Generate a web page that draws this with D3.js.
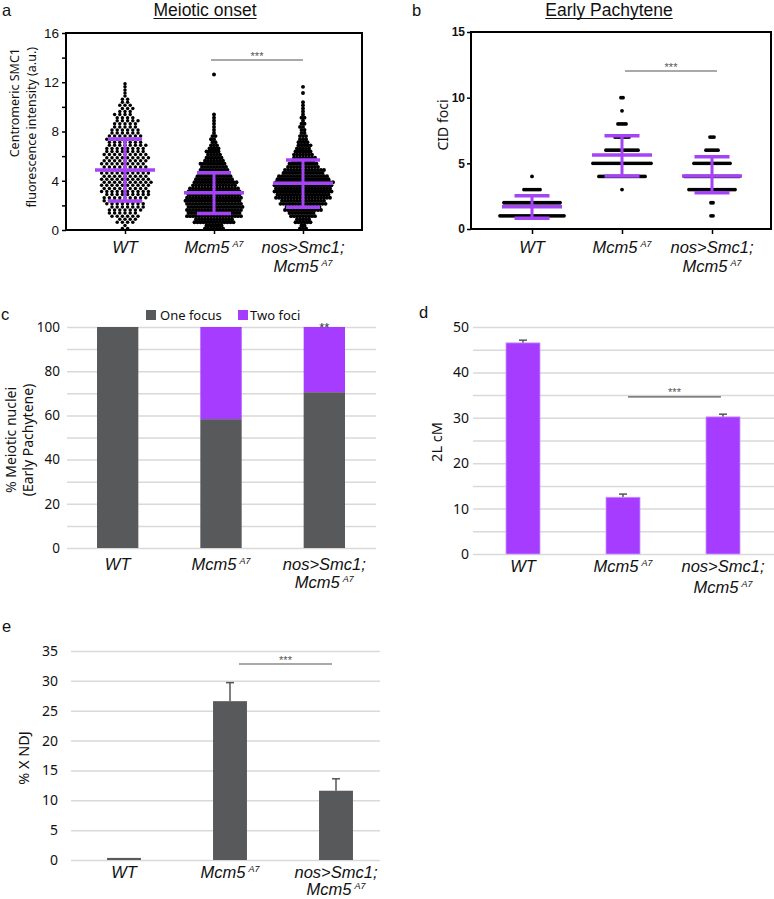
<!DOCTYPE html>
<html><head><meta charset="utf-8">
<script src="https://cdn.jsdelivr.net/npm/d3@7"></script>
<style>body{margin:0;background:#fff} svg{display:block}</style>
</head><body><svg id="fig" width="774" height="899"></svg>
<script>
// ---------------- DATA ----------------
const categories = ["WT", "Mcm5", "nos>Smc1; Mcm5"];
const labelLine1 = ["WT", "Mcm5", "nos>Smc1;"];
const labelSup1  = ["", "A7", ""];
const labelLine2 = ["", "", "Mcm5"];
const labelSup2  = ["", "", "A7"];

// Panel a: centromeric SMC1 intensity, number of nuclei per 0.5 a.u. bin (bin 0 = 0-0.5)
const smc1BinWidth = 0.5;
const smc1CountsWT   = [3,8,12,14,16,18,19,20,19,19,18,18,17,16,14,13,11,10,8,6,5,3,2,2];
const smc1CountsMcm5 = [13,27,37,38,38,37,35,30,25,21,18,13,10,7,4,3,2,2,2,0,0,0,0,0,0,1];
const smc1CountsNos  = [5,11,18,25,31,37,39,40,35,28,21,16,13,10,7,5,4,3,3,2,2,0,1,1];
const smc1Mean   = [4.87, 3.03, 3.79];
const smc1SdHigh = [7.39, 4.65, 5.68];
const smc1SdLow  = [2.36, 1.35, 1.84];
const smc1Ticks  = [0, 4, 8, 12, 16];

// Panel b: CID foci per nucleus (value -> count)
const cidValues     = [1, 2, 3, 4, 5, 6, 7, 8, 9, 10];
const cidCountsWT   = [33, 29, 9, 1, 0, 0, 0, 0, 0, 0];
const cidCountsMcm5 = [0, 0, 1, 24, 30, 17, 8, 5, 1, 2];
const cidCountsNos  = [2, 2, 24, 28, 19, 7, 3, 0, 0, 0];
const cidMean   = [1.70, 5.63, 4.04];
const cidSdHigh = [2.54, 7.10, 5.50];
const cidSdLow  = [0.81, 4.04, 2.76];
const cidTicks  = [0, 5, 10, 15];

// Panel c: % meiotic nuclei (early pachytene)
const seriesC = ["One focus", "Two foci"];
const oneFocus = [100, 58.3, 70.5];
const twoFoci  = [0, 41.7, 29.5];

// Panel d: 2L cM
const cM    = [46.5, 12.5, 30.2];
const cMErr = [0.6, 0.7, 0.6];

// Panel e: % X NDJ
const ndj    = [0.35, 26.6, 11.6];
const ndjErr = [0, 3.1, 2.0];

// ---------------- STYLE ----------------
const purple = "#a63cff";
const purpleBar = "#a544f6";
const gray = "#58595b";
const grid = "#d9d9d9";
const arial = "'Liberation Sans', Arial, sans-serif";
const myriad = "'Noto Sans', 'Open Sans', sans-serif";

const svg = d3.select("#fig");

function xLabels(g, xs, y1, y2, size) {
  categories.forEach((c, i) => {
    const t = g.append("text").attr("x", xs[i]).attr("y", y1)
      .attr("text-anchor", "middle").attr("font-family", arial)
      .attr("font-style", "italic").attr("font-size", size).attr("fill", "#111");
    t.append("tspan").text(labelLine1[i]);
    if (labelSup1[i]) t.append("tspan").attr("dx", 3).attr("dy", -6).attr("font-size", size * 0.55).text(labelSup1[i]);
    if (labelLine2[i]) {
      const t2 = g.append("text").attr("x", xs[i]).attr("y", y2)
        .attr("text-anchor", "middle").attr("font-family", arial)
        .attr("font-style", "italic").attr("font-size", size).attr("fill", "#111");
      t2.append("tspan").text(labelLine2[i]);
      if (labelSup2[i]) t2.append("tspan").attr("dx", 3).attr("dy", -6).attr("font-size", size * 0.55).text(labelSup2[i]);
    }
  });
}
function panelLetter(x, y, s) {
  svg.append("text").attr("x", x).attr("y", y).attr("font-family", arial)
    .attr("font-size", 16.5).attr("fill", "#111").text(s);
}
function title(cx, y, s) {
  const t = svg.append("text").attr("x", cx).attr("y", y).attr("text-anchor", "middle")
    .attr("font-family", arial).attr("font-size", 17.5).attr("fill", "#111").text(s);
  const w = t.node().getComputedTextLength();
  svg.append("line").attr("x1", cx - w / 2).attr("x2", cx + w / 2).attr("y1", y + 2.5).attr("y2", y + 2.5)
    .attr("stroke", "#111").attr("stroke-width", 1);
}
function sig(x1, x2, y, s, fs) {
  svg.append("line").attr("x1", x1).attr("x2", x2).attr("y1", y).attr("y2", y)
    .attr("stroke", "#555").attr("stroke-width", 1.2);
  svg.append("text").attr("x", (x1 + x2) / 2).attr("y", y - 0.5).attr("text-anchor", "middle")
    .attr("font-family", arial).attr("font-size", fs || 11).attr("fill", "#555").text(s);
}

// ---------------- PANEL A ----------------
(function () {
  const L = 66, R = 362, T = 33, B = 230;
  const y = d3.scaleLinear().domain([0, 16]).range([B, T]);
  const x = d3.scalePoint().domain(categories).range([125, 303]);
  const g = svg.append("g");
  const ax = g.append("g").attr("transform", `translate(${L},0)`)
    .call(d3.axisLeft(y).tickValues(d3.range(0, 17, 2)).tickFormat(d => smc1Ticks.includes(d) ? d : "").tickSize(4).tickPadding(3));
  ax.select(".domain").remove();
  ax.selectAll("line").attr("stroke", "#000").attr("stroke-width", 1.5);
  ax.selectAll("text").attr("font-family", arial).attr("font-size", 13.5).attr("fill", "#111");
  const bx = g.append("g").attr("transform", `translate(0,${B})`)
    .call(d3.axisBottom(x).tickSize(4).tickFormat(""));
  bx.select(".domain").remove();
  bx.selectAll("line").attr("stroke", "#000").attr("stroke-width", 1.5);

  const sets = [smc1CountsWT, smc1CountsMcm5, smc1CountsNos];
  const gaps = [5.2, 3.0, 3.0];
  const radii = [1.75, 1.95, 1.95];
  sets.forEach((counts, i) => {
    const pts = [];
    counts.forEach((c, b) => {
      const n0 = Math.ceil(c / 2), n1 = c - n0;
      [n0, n1].forEach((n, k) => {
        const shift = (k === 1 && n0 === n1 && n > 1) ? (b % 2 ? 0.5 : -0.5) : 0;
        for (let j = 0; j < n; j++) pts.push({ v: b * smc1BinWidth + smc1BinWidth * (k + 0.5) / 2, j, n, shift });
      });
    });
    g.append("g").selectAll("circle").data(pts).join("circle")
      .attr("cx", d => x(categories[i]) + (d.j - (d.n - 1) / 2 + d.shift) * gaps[i])
      .attr("cy", d => y(d.v)).attr("r", radii[i]).attr("fill", "#000");
  });
  categories.forEach((c, i) => {
    const cx = x(c);
    g.append("line").attr("x1", cx).attr("x2", cx).attr("y1", y(smc1SdLow[i])).attr("y2", y(smc1SdHigh[i]))
      .attr("stroke", purpleBar).attr("stroke-width", 3);
    [[smc1Mean[i], 30], [smc1SdHigh[i], 17], [smc1SdLow[i], 17]].forEach(([v, hw]) => {
      g.append("line").attr("x1", cx - hw).attr("x2", cx + hw).attr("y1", y(v)).attr("y2", y(v))
        .attr("stroke", purpleBar).attr("stroke-width", 3.5);
    });
  });
  g.append("rect").attr("x", L).attr("y", T).attr("width", R - L).attr("height", B - T)
    .attr("fill", "none").attr("stroke", "#000").attr("stroke-width", 2);
  xLabels(g, categories.map(c => x(c)), 253, 272, 16.5);
  sig(211, 303, 60, "***");
  title(205, 16, "Meiotic onset");
  panelLetter(2, 15.5, "a");
  svg.append("text").attr("transform", "translate(19,48) rotate(-90)").attr("text-anchor", "end")
    .attr("font-family", myriad).attr("font-size", 12.5).attr("fill", "#111").text("Centromeric SMC1");
  svg.append("text").attr("transform", "translate(36,47) rotate(-90)").attr("text-anchor", "end")
    .attr("font-family", myriad).attr("font-size", 12.5).attr("fill", "#111").text("fluorescence intensity (a.u.)");
})();

// ---------------- PANEL B ----------------
(function () {
  const L = 471, R = 771, T = 32, B = 229;
  const y = d3.scaleLinear().domain([0, 15]).range([B, T]);
  const x = d3.scalePoint().domain(categories).range([532, 712]);
  const g = svg.append("g");
  const ax = g.append("g").attr("transform", `translate(${L},0)`)
    .call(d3.axisLeft(y).tickValues(cidTicks).tickSize(4).tickPadding(2));
  ax.select(".domain").remove();
  ax.selectAll("line").attr("stroke", "#000").attr("stroke-width", 1.5);
  ax.selectAll("text").attr("font-family", arial).attr("font-weight", "bold").attr("font-size", 12).attr("fill", "#111");
  const bx = g.append("g").attr("transform", `translate(0,${B})`)
    .call(d3.axisBottom(x).tickSize(5).tickFormat(""));
  bx.select(".domain").remove();
  bx.selectAll("line").attr("stroke", "#000").attr("stroke-width", 1.5);

  const sets = [cidCountsWT, cidCountsMcm5, cidCountsNos];
  sets.forEach((counts, i) => {
    const pts = [];
    counts.forEach((n, k) => { for (let j = 0; j < n; j++) pts.push({ v: cidValues[k], j, n }); });
    g.append("g").selectAll("circle").data(pts).join("circle")
      .attr("cx", d => x(categories[i]) + (d.j - (d.n - 1) / 2) * 2.0)
      .attr("cy", d => y(d.v)).attr("r", 1.9).attr("fill", "#000");
  });
  categories.forEach((c, i) => {
    const cx = x(c);
    g.append("line").attr("x1", cx).attr("x2", cx).attr("y1", y(cidSdLow[i])).attr("y2", y(cidSdHigh[i]))
      .attr("stroke", purpleBar).attr("stroke-width", 3);
    [[cidMean[i], 30], [cidSdHigh[i], 17.5], [cidSdLow[i], 17.5]].forEach(([v, hw]) => {
      g.append("line").attr("x1", cx - hw).attr("x2", cx + hw).attr("y1", y(v)).attr("y2", y(v))
        .attr("stroke", purpleBar).attr("stroke-width", 3.5);
    });
  });
  g.append("rect").attr("x", L).attr("y", T).attr("width", R - L).attr("height", B - T)
    .attr("fill", "none").attr("stroke", "#000").attr("stroke-width", 2);
  xLabels(g, categories.map(c => x(c)), 253, 272, 16.5);
  sig(625, 717, 71, "***");
  title(609, 16, "Early Pachytene");
  panelLetter(412, 15.5, "b");
  svg.append("text").attr("transform", "translate(448,125) rotate(-90)").attr("text-anchor", "middle")
    .attr("font-family", myriad).attr("font-size", 14).attr("fill", "#111").text("CID foci");
})();

// ---------------- PANEL C ----------------
(function () {
  const L = 67, R = 376, T = 327, B = 548;
  const y = d3.scaleLinear().domain([0, 100]).range([B, T]);
  const x = d3.scaleBand().domain(categories).range([66, 376]).paddingInner(0.6).paddingOuter(0.3);
  const g = svg.append("g");
  const ax = g.append("g").attr("transform", `translate(${L},0)`)
    .call(d3.axisLeft(y).tickValues(d3.range(0, 101, 10)).tickFormat(d => d % 20 === 0 ? d : "")
      .tickSize(-(R - L)).tickPadding(7));
  ax.select(".domain").remove();
  ax.selectAll("line").attr("stroke", grid).attr("stroke-width", 1.5);
  ax.selectAll("text").attr("font-family", myriad).attr("font-size", 13.5).attr("fill", "#111");
  const stack = categories.map((c, i) => ({ c, a: oneFocus[i], b: twoFoci[i] }));
  g.selectAll(".one").data(stack).join("rect")
    .attr("x", d => x(d.c)).attr("width", x.bandwidth())
    .attr("y", d => y(d.a)).attr("height", d => y(0) - y(d.a)).attr("fill", gray);
  g.selectAll(".two").data(stack.filter(d => d.b > 0)).join("rect")
    .attr("x", d => x(d.c)).attr("width", x.bandwidth())
    .attr("y", d => y(d.a + d.b)).attr("height", d => y(d.a) - y(d.a + d.b)).attr("fill", purple);
  // legend
  const lg = [[146, gray, 160, seriesC[0]], [238, purple, 250, seriesC[1]]];
  lg.forEach(([sx, col, tx, t]) => {
    g.append("rect").attr("x", sx).attr("y", 310).attr("width", 10).attr("height", 10).attr("fill", col);
    g.append("text").attr("x", tx).attr("y", 319.5).attr("font-family", myriad).attr("font-size", 13)
      .attr("fill", "#111").text(t);
  });
  g.append("text").attr("x", x(categories[2]) + x.bandwidth() / 2).attr("y", 332).attr("text-anchor", "middle")
    .attr("font-family", arial).attr("font-size", 13).attr("fill", "#333").text("**");
  xLabels(g, categories.map(c => x(c) + x.bandwidth() / 2), 570, 588, 16.5);
  panelLetter(1, 320, "c");
  svg.append("text").attr("transform", "translate(16,440) rotate(-90)").attr("text-anchor", "middle")
    .attr("font-family", myriad).attr("font-size", 14).attr("fill", "#111").text("% Meiotic nuclei");
  svg.append("text").attr("transform", "translate(33,440) rotate(-90)").attr("text-anchor", "middle")
    .attr("font-family", myriad).attr("font-size", 14).attr("fill", "#111").text("(Early Pachytene)");
})();

// ---------------- PANEL D ----------------
(function () {
  const L = 473, R = 774, T = 327, B = 554;
  const y = d3.scaleLinear().domain([0, 50]).range([B, T]);
  const x = d3.scaleBand().domain(categories).range([473, 773]).paddingInner(0.66).paddingOuter(0.33);
  const g = svg.append("g");
  const ax = g.append("g").attr("transform", `translate(${L},0)`)
    .call(d3.axisLeft(y).tickValues(d3.range(0, 51, 5)).tickFormat(d => d % 10 === 0 ? d : "")
      .tickSize(-(R - L)).tickPadding(4));
  ax.select(".domain").remove();
  ax.selectAll("line").attr("stroke", grid).attr("stroke-width", 1.5);
  ax.selectAll("text").attr("font-family", myriad).attr("font-size", 14).attr("fill", "#111");
  categories.forEach((c, i) => {
    const cx = x(c) + x.bandwidth() / 2;
    g.append("line").attr("x1", cx).attr("x2", cx).attr("y1", y(cM[i])).attr("y2", y(cM[i] + cMErr[i]))
      .attr("stroke", "#555").attr("stroke-width", 1.5);
    g.append("line").attr("x1", cx - 4).attr("x2", cx + 4).attr("y1", y(cM[i] + cMErr[i])).attr("y2", y(cM[i] + cMErr[i]))
      .attr("stroke", "#555").attr("stroke-width", 1.5);
  });
  g.selectAll(".bar").data(categories).join("rect")
    .attr("x", d => x(d)).attr("width", x.bandwidth())
    .attr("y", (d, i) => y(cM[i])).attr("height", (d, i) => y(0) - y(cM[i]))
    .attr("fill", purple).attr("stroke", "#c897ff").attr("stroke-width", 0.8);
  xLabels(g, categories.map(c => x(c) + x.bandwidth() / 2), 572, 593, 16.5);
  sig(628, 721, y(34.6), "***");
  panelLetter(419, 318, "d");
  svg.append("text").attr("transform", "translate(442,442) rotate(-90)").attr("text-anchor", "middle")
    .attr("font-family", myriad).attr("font-size", 14.5).attr("fill", "#111").text("2L cM");
})();

// ---------------- PANEL E ----------------
(function () {
  const L = 71, R = 380, T = 651, B = 860;
  const y = d3.scaleLinear().domain([0, 35]).range([B, T]);
  const x = d3.scaleBand().domain(categories).range([71, 389]).paddingInner(0.68).paddingOuter(0.34);
  const g = svg.append("g");
  const ax = g.append("g").attr("transform", `translate(${L},0)`)
    .call(d3.axisLeft(y).tickValues(d3.range(0, 36, 5)).tickSize(-(R - L)).tickPadding(13));
  ax.select(".domain").remove();
  ax.selectAll("line").attr("stroke", grid).attr("stroke-width", 1.5);
  ax.selectAll("text").attr("font-family", myriad).attr("font-size", 14).attr("fill", "#111");
  categories.forEach((c, i) => {
    if (!ndjErr[i]) return;
    const cx = x(c) + x.bandwidth() / 2;
    g.append("line").attr("x1", cx).attr("x2", cx).attr("y1", y(ndj[i])).attr("y2", y(ndj[i] + ndjErr[i]))
      .attr("stroke", "#555").attr("stroke-width", 1.5);
    g.append("line").attr("x1", cx - 4).attr("x2", cx + 4).attr("y1", y(ndj[i] + ndjErr[i])).attr("y2", y(ndj[i] + ndjErr[i]))
      .attr("stroke", "#555").attr("stroke-width", 1.5);
  });
  g.selectAll(".bar").data(categories).join("rect")
    .attr("x", d => x(d)).attr("width", x.bandwidth())
    .attr("y", (d, i) => y(ndj[i])).attr("height", (d, i) => y(0) - y(ndj[i]))
    .attr("fill", gray);
  xLabels(g, categories.map(c => x(c) + x.bandwidth() / 2), 878, 895, 16.5);
  sig(239, 332, 664, "***");
  panelLetter(2, 632, "e");
  svg.append("text").attr("transform", "translate(29,758) rotate(-90)").attr("text-anchor", "middle")
    .attr("font-family", myriad).attr("font-size", 14.5).attr("fill", "#111").text("% X NDJ");
})();
</script></body></html>
